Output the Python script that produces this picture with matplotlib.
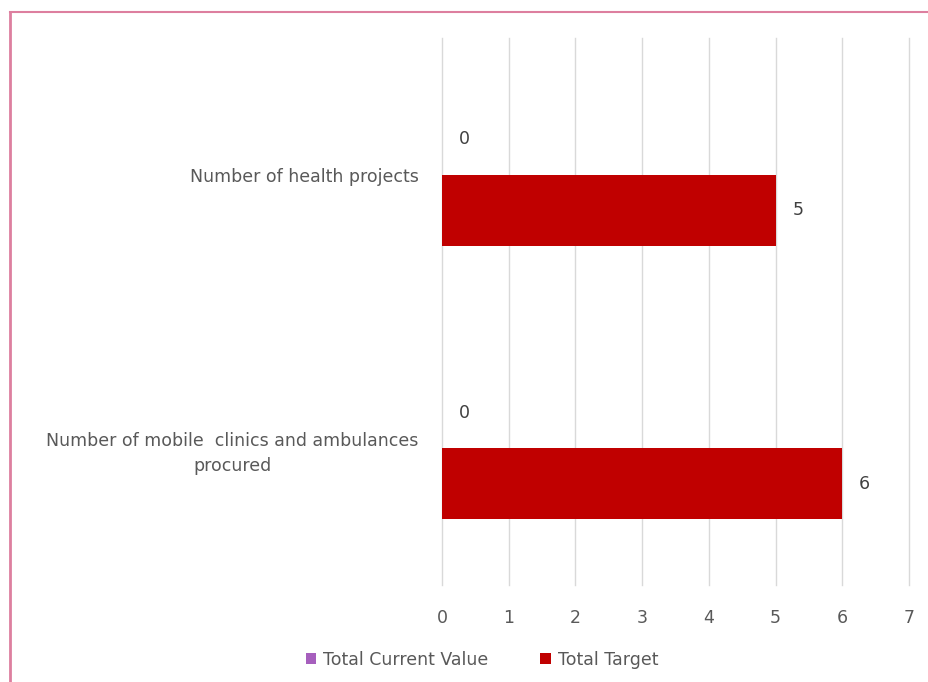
import matplotlib.pyplot as plt
import numpy as np
from matplotlib.lines import Line2D

categories = ["Number of health projects",
              "Number of mobile  clinics and ambulances\nprocured"]
current_value = [0, 0]
target_value = [5, 6]
x_ticks = [0, 1, 2, 3, 4, 5, 6, 7]

plt.rcParams['font.family'] = ['DejaVu Sans']
fs = 12.5

fig = plt.figure(figsize=(9.29, 6.82), dpi=100)
ax = fig.add_axes([442/929, 1 - 585/682, 467/929, 547/682])

ypos = np.arange(len(categories))
h = 0.26  # толщина бара
b1 = ax.barh(ypos - h/2, current_value, h, color="#a65fbd", label="Total Current Value")
b2 = ax.barh(ypos + h/2, target_value, h, color="#c00000", label="Total Target")

# подписи значений
for rects in (b1, b2):
    for r in rects:
        w = r.get_width()
        ax.annotate('%d' % w, (w, r.get_y() + r.get_height()/2), xytext=(12, 0),
                    textcoords="offset points", va='center', ha='left',
                    fontsize=fs, color="#404040")

ax.set_xlim(0, 7)
ax.set_ylim(len(categories) - 0.5, -0.5)
ax.set_xticks(x_ticks)
ax.set_yticks(ypos)
ax.set_yticklabels(categories, ha='right', multialignment='center', linespacing=1.45,
                   fontsize=fs, color="#595959")
ax.tick_params(axis='y', length=0, pad=17)
ax.tick_params(axis='x', length=0, pad=17, labelsize=fs, labelcolor="#595959")
ax.grid(axis='x', color="#d9d9d9", linewidth=1.0)
for gl in ax.get_xgridlines():
    gl.set_clip_on(False)
ax.set_axisbelow(True)
for s in ax.spines.values():
    s.set_visible(False)

fig.legend(handles=[b1, b2], loc='center', bbox_to_anchor=(482/929, 1 - 660/682),
           ncol=2, frameon=False, fontsize=fs, handlelength=0.6, handleheight=0.6,
           handletextpad=0.4, columnspacing=3.0, labelcolor="#595959")

# розовая рамка
pink = "#dd7f9f"
fig.add_artist(Line2D([10/929, 10/929], [0, 1 - 12/682], color=pink, lw=2))
fig.add_artist(Line2D([10/929, 1], [1 - 12/682, 1 - 12/682], color=pink, lw=1.5))

fig.savefig("out.png", dpi=100)
